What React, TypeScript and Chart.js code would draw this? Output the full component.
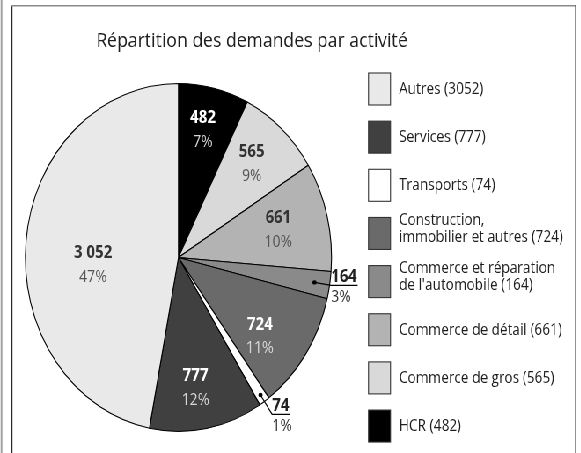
import React, { useEffect, useRef } from "react";
import { Chart, registerables } from "chart.js";
Chart.register(...registerables);

const title = "Répartition des demandes par activité";
const categories = [
  "HCR",
  "Commerce de gros",
  "Commerce de détail",
  "Commerce et réparation\nde l'automobile",
  "Construction,\nimmobilier et autres",
  "Transports",
  "Services",
  "Autres",
];
const values = [482, 565, 661, 164, 724, 74, 777, 3052];
const legendOrder = [7, 6, 5, 4, 3, 2, 1, 0];

const sliceColors = ["#000000", "#d9d9d9", "#b3b3b3", "#8a8a8a", "#6a6a6a", "#ffffff", "#404040", "#e9e9e9"];
const darkSlice = [true, false, false, false, true, false, true, false];
// label placement (style): [radius fraction, angle fraction in slice]
const insideLabel: (number[] | null)[] = [
  [0.75, 0.46], [0.72, 0.48], [0.67, 0.51], null, [0.7, 0.67], null, [0.76, 0.55], [0.56, 0.44],
];
const outsideLabel: ({ dot: number; elbow: number } | null)[] = [
  null, null, null, { dot: 0.9, elbow: 1.01 }, null, { dot: 0.955, elbow: 1.09 }, null, null,
];

const SX = 0.88;
const W = 660;
const H = 453;
const FONT = "'Open Sans', 'Noto Sans', sans-serif";

const fmt = (v: number) => String(v).replace(/\B(?=(\d{3})+(?!\d))/g, " ");

const decorPlugin = {
  id: "decor",
  afterDraw(chart: any) {
    const ctx: CanvasRenderingContext2D = chart.ctx;
    ctx.save();
    // frame lines
    ctx.lineWidth = 2;
    ctx.strokeStyle = "#a0a0a0";
    ctx.beginPath();
    ctx.moveTo(1.5 / SX, 0);
    ctx.lineTo(1.5 / SX, H);
    ctx.stroke();
    ctx.lineWidth = 1.6;
    ctx.strokeStyle = "#2a2a2a";
    ctx.beginPath();
    ctx.moveTo(11.8 / SX, 5);
    ctx.lineTo(11.8 / SX, H);
    ctx.stroke();
    ctx.strokeStyle = "#8a8a8a";
    ctx.beginPath();
    ctx.moveTo(11 / SX, 5.7);
    ctx.lineTo(576 / SX, 5.7);
    ctx.stroke();
    ctx.strokeStyle = "#666";
    ctx.beginPath();
    ctx.moveTo(575.6 / SX, 5);
    ctx.lineTo(575.6 / SX, H);
    ctx.stroke();

    // title
    ctx.textAlign = "center";
    ctx.textBaseline = "middle";
    ctx.fillStyle = "#1e1e1e";
    ctx.font = `20px ${FONT}`;
    ctx.fillText(title, 252 / SX, 41);

    // slice labels
    const meta = chart.getDatasetMeta(0);
    const total = values.reduce((a, b) => a + b, 0);
    meta.data.forEach((arc: any, i: number) => {
      const { x, y, startAngle, endAngle, outerRadius } = arc.getProps(
        ["x", "y", "startAngle", "endAngle", "outerRadius"],
        true
      );
      const vTxt = fmt(values[i]);
      const pTxt = Math.round((values[i] / total) * 100) + "%";
      const inside = insideLabel[i];
      if (inside) {
        const a = startAngle + (endAngle - startAngle) * inside[1];
        const r = outerRadius * inside[0];
        const px = x + Math.cos(a) * r;
        const py = y + Math.sin(a) * r;
        ctx.textAlign = "center";
        ctx.font = `bold 17px ${FONT}`;
        ctx.fillStyle = darkSlice[i] ? "#ffffff" : "#333333";
        ctx.fillText(vTxt, px, py - 12);
        ctx.font = `16px ${FONT}`;
        ctx.fillStyle = darkSlice[i] ? "#d6d6d6" : "#555555";
        ctx.fillText(pTxt, px, py + 12);
      }
      const out = outsideLabel[i];
      if (out) {
        const a = (startAngle + endAngle) / 2;
        const dx = x + Math.cos(a) * outerRadius * out.dot;
        const dy = y + Math.sin(a) * outerRadius * out.dot;
        const ex = x + Math.cos(a) * outerRadius * out.elbow;
        const ey = y + Math.sin(a) * outerRadius * out.elbow;
        ctx.font = `bold 17px ${FONT}`;
        const tw = ctx.measureText(vTxt).width;
        ctx.fillStyle = "#000";
        ctx.beginPath();
        ctx.ellipse(dx, dy, 2.2 / SX, 2.2, 0, 0, Math.PI * 2);
        ctx.fill();
        ctx.strokeStyle = "#000";
        ctx.lineWidth = 1.2;
        ctx.beginPath();
        ctx.moveTo(dx, dy);
        ctx.lineTo(ex, ey);
        ctx.lineTo(ex + tw + 1, ey);
        ctx.stroke();
        ctx.textAlign = "left";
        ctx.fillStyle = "#222";
        ctx.fillText(vTxt, ex, ey - 8);
        ctx.font = `16px ${FONT}`;
        ctx.fillStyle = "#333";
        ctx.fillText(pTxt, ex, ey + 12);
      }
    });

    // legend
    legendOrder.forEach((i, k) => {
      const top = 73 + k * 48.15;
      ctx.fillStyle = sliceColors[i];
      ctx.fillRect(368.5 / SX, top, 22 / SX, 32);
      ctx.strokeStyle = "#333";
      ctx.lineWidth = 1.1;
      ctx.strokeRect(368.5 / SX, top, 22 / SX, 32);
      const lines = (categories[i] + ` (${values[i]})`).split("\n");
      ctx.font = `15.5px ${FONT}`;
      ctx.fillStyle = "#1e1e1e";
      ctx.textAlign = "left";
      ctx.textBaseline = "middle";
      const cy = top + 16;
      if (lines.length === 1) {
        ctx.fillText(lines[0], 399 / SX, cy + 0.5);
      } else {
        ctx.fillText(lines[0], 399 / SX, cy - 13);
        ctx.fillText(lines[1], 399 / SX, cy + 4);
      }
    });
    ctx.restore();
  },
};

export default function App() {
  const ref = useRef<HTMLCanvasElement | null>(null);
  useEffect(() => {
    if (!ref.current) return;
    const chart = new Chart(ref.current, {
      type: "pie",
      data: {
        labels: categories.map((c) => c.replace("\n", " ")),
        datasets: [
          {
            data: values,
            backgroundColor: sliceColors,
            borderColor: "#000000",
            borderWidth: 1.1,
          },
        ],
      },
      options: {
        responsive: false,
        animation: false,
        devicePixelRatio: 1,
        layout: { padding: { left: 28.3, right: W - 377.3, top: 83, bottom: H - 432 } },
        plugins: {
          legend: { display: false },
          tooltip: { enabled: false },
          title: { display: false },
        },
      },
      plugins: [decorPlugin],
    });
    return () => chart.destroy();
  }, []);
  return (
    <div
      style={{
        position: "fixed",
        left: 0,
        top: 0,
        width: W,
        height: H,
        background: "#fff",
        transform: `scaleX(${SX})`,
        transformOrigin: "0 0",
      }}
    >
      <canvas ref={ref} width={W} height={H} style={{ width: W, height: H, display: "block" }} />
    </div>
  );
}
